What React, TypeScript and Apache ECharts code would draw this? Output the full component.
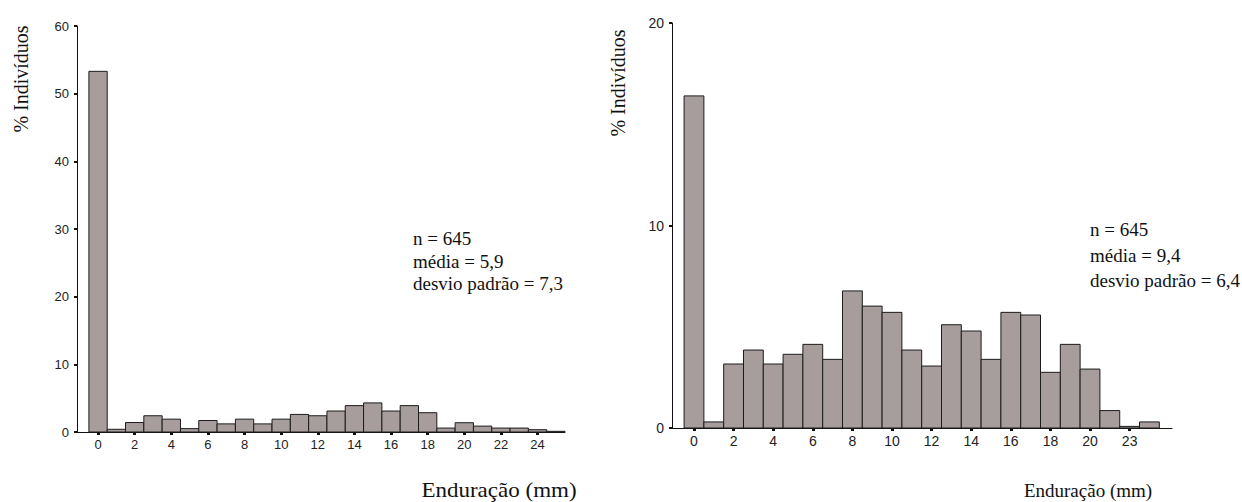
import React, { useEffect, useRef } from "react";
import * as echarts from "echarts";

// Left histogram: % of individuals per induration (mm) class, 0..25
const leftValues = [53.3, 0.4, 1.4, 2.4, 1.9, 0.5, 1.7, 1.2, 1.9, 1.2, 1.9, 2.6, 2.4, 3.1, 3.9, 4.3, 3.1, 3.9, 2.85, 0.58, 1.37, 0.87, 0.58, 0.58, 0.34, 0.1];
// Right histogram: classes 0..23
const rightValues = [16.4, 0.3, 3.16, 3.85, 3.16, 3.64, 4.13, 3.39, 6.77, 6.02, 5.71, 3.85, 3.06, 5.1, 4.79, 3.39, 5.71, 5.58, 2.75, 4.13, 2.91, 0.86, 0.08, 0.3];

const leftTickValues = [0, 2, 4, 6, 8, 10, 12, 14, 16, 18, 20, 22, 24];
const leftTickLabels = ["0", "2", "4", "6", "8", "10", "12", "14", "16", "18", "20", "22", "24"];
const rightTickValues = [0, 2, 4, 6, 8, 10, 12, 14, 16, 18, 20, 22];
const rightTickLabels = ["0", "2", "4", "6", "8", "10", "12", "14", "16", "18", "20", "23"];

const leftStats = ["n = 645", "média = 5,9", "desvio padrão = 7,3"];
const rightStats = ["n = 645", "média = 9,4", "desvio padrão = 6,4"];

const yName = "% Indivíduos";
const xName = "Enduração (mm)";

const BAR_FILL = "#a89d9d";
const BAR_STROKE = "#1c1c1c";
const SERIF = "'Liberation Serif', 'Times New Roman', Times, serif";
const SANS = "'Liberation Sans', Arial, sans-serif";

function renderBar(params: any, api: any) {
  const x = api.value(0);
  const v = api.value(1);
  const p1 = api.coord([x - 0.5, v]);
  const p0 = api.coord([x + 0.5, 0]);
  return {
    type: "rect",
    shape: { x: p1[0], y: p1[1], width: p0[0] - p1[0], height: p0[1] - p1[1] },
    style: { fill: BAR_FILL, stroke: BAR_STROKE, lineWidth: 1 },
  };
}

function xAxisOpt(gridIndex: number, min: number, max: number, ticks: number[], labels: string[], fontSize: number) {
  return {
    type: "value",
    gridIndex,
    min,
    max,
    axisLine: { show: true, onZero: false, lineStyle: { color: "#111", width: 1 } },
    axisTick: { show: true, customValues: ticks, length: 3, lineStyle: { color: "#111", width: 3 } },
    axisLabel: {
      customValues: ticks,
      formatter: (val: number) => labels[ticks.indexOf(val)] ?? "",
      color: "#222",
      fontFamily: SANS,
      fontSize,
      margin: 6,
    },
    splitLine: { show: false },
  };
}

function yAxisOpt(gridIndex: number, max: number, fontSize: number) {
  return {
    type: "value",
    gridIndex,
    min: 0,
    max,
    interval: 10,
    axisLine: { show: true, onZero: false, lineStyle: { color: "#111", width: 1 } },
    axisTick: { show: true, length: 3, lineStyle: { color: "#111", width: 2 } },
    axisLabel: { color: "#222", fontFamily: SANS, fontSize, margin: 8 },
    splitLine: { show: false },
  };
}

function serifText(text: string, x: number, y: number, size: number, align: string, extra: any = {}) {
  return {
    type: "text",
    x,
    y,
    ...extra,
    style: {
      text,
      fontFamily: SERIF,
      fontSize: size,
      fill: "#111",
      align,
      verticalAlign: "middle",
    },
  };
}

export default function App() {
  const ref = useRef<HTMLDivElement>(null);
  useEffect(() => {
    if (!ref.current) return;
    const chart = echarts.init(ref.current, undefined, { renderer: "svg" });
    chart.setOption({
      animation: false,
      backgroundColor: "#ffffff",
      grid: [
        { left: 77, top: 26, width: 488, height: 406 },
        { left: 672, top: 23, width: 500, height: 405 },
      ],
      xAxis: [
        xAxisOpt(0, -1.15, 25.5, leftTickValues, leftTickLabels, 13),
        xAxisOpt(1, -1.11, 24.14, rightTickValues, rightTickLabels, 14),
      ],
      yAxis: [yAxisOpt(0, 60, 13), yAxisOpt(1, 20, 14)],
      series: [
        {
          type: "custom",
          xAxisIndex: 0,
          yAxisIndex: 0,
          renderItem: renderBar,
          clip: false,
          encode: { x: 0, y: 1 },
          data: leftValues.map((v, i) => [i, v]),
        },
        {
          type: "custom",
          xAxisIndex: 1,
          yAxisIndex: 1,
          renderItem: renderBar,
          clip: false,
          encode: { x: 0, y: 1 },
          data: rightValues.map((v, i) => [i, v]),
        },
      ],
      graphic: [
        serifText(yName, 21, 79, 20, "center", { rotation: Math.PI / 2 }),
        serifText(yName, 618, 83, 20, "center", { rotation: Math.PI / 2 }),
        serifText(xName, 499, 491, 20, "center", { scaleX: 1.15 }),
        serifText(xName, 1088, 490, 19, "center"),
        ...leftStats.map((t, i) => serifText(t, 413, [238, 261, 283][i], 19, "left")),
        ...rightStats.map((t, i) => serifText(t, 1090, [229, 255, 280][i], 19, "left")),
      ],
    });
    return () => chart.dispose();
  }, []);
  return <div ref={ref} style={{ position: "absolute", left: 0, top: 0, width: 1242, height: 502 }} />;
}
